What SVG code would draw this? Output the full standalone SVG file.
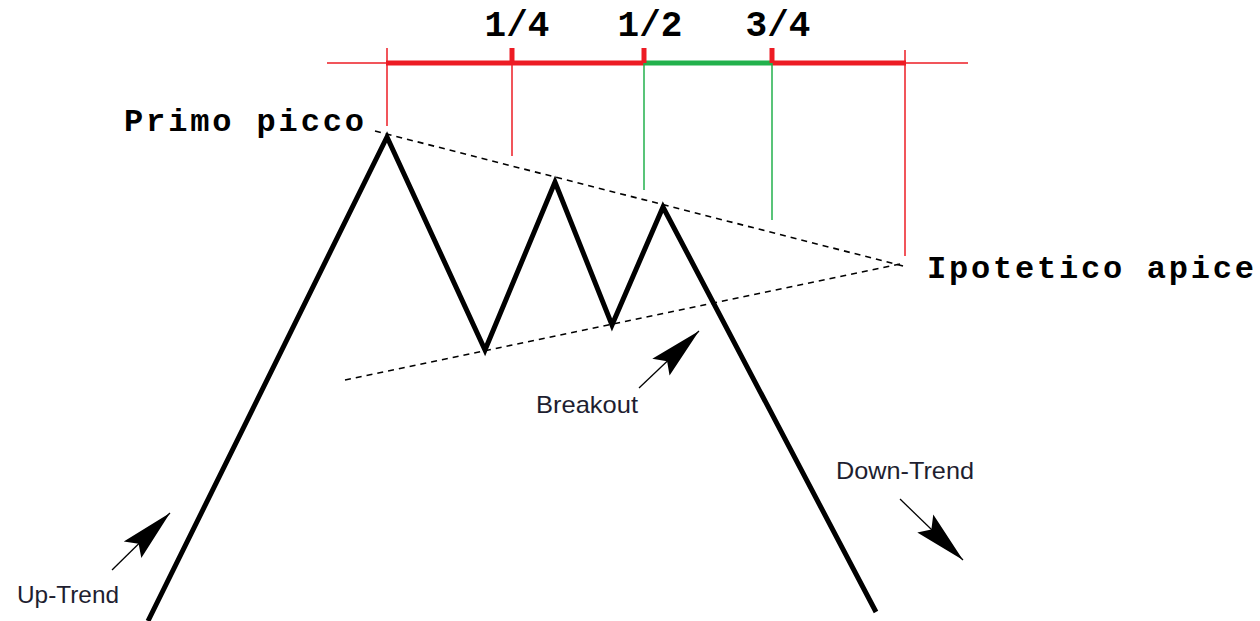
<svg xmlns="http://www.w3.org/2000/svg" width="1260" height="621" viewBox="0 0 1260 621">
<style>
.thinr{stroke:#ed1c24;stroke-width:1.5;fill:none}
.thickr{stroke:#ed1c24;stroke-width:5;fill:none}
.thing{stroke:#22b14c;stroke-width:1.5;fill:none}
.thickg{stroke:#22b14c;stroke-width:5;fill:none}
.price{stroke:#000;stroke-width:5;fill:none;stroke-linejoin:miter;stroke-miterlimit:10}
.dash{stroke:#000;stroke-width:1.6;fill:none;stroke-dasharray:6 5}
.shaft{stroke:#000;stroke-width:1.3;fill:none}
.mono{font-family:"Liberation Mono","Courier New",monospace;font-weight:bold;font-size:36px;fill:#000}
.mono2{font-family:"Liberation Mono","Courier New",monospace;font-weight:bold;font-size:32px;fill:#000}
.lbl{font-family:"Liberation Sans",Arial,sans-serif;font-size:24px;fill:#1e1e30}
</style>
<defs>
<marker id="ah" markerUnits="userSpaceOnUse" viewBox="-56 -14 58 28" markerWidth="58" markerHeight="28" refX="0" refY="0" orient="auto" overflow="visible">
<path d="M0,0 L-53,-12 L-44,0 L-52,12 Z" fill="#000"/>
</marker>
</defs>
<rect width="1260" height="621" fill="#fff"/>
<g id="scale">
<line class="thinr" x1="327" y1="63" x2="968" y2="63"/>
<line class="thickr" x1="386" y1="63" x2="644" y2="63"/>
<line class="thickr" x1="772" y1="63" x2="906" y2="63"/>
<line class="thickg" x1="644" y1="63" x2="772" y2="63"/>
<line class="thinr" x1="387" y1="48" x2="387" y2="126"/>
<line class="thickr" x1="512" y1="48" x2="512" y2="63"/>
<line class="thinr" x1="512" y1="63" x2="512" y2="156"/>
<line class="thickr" x1="644" y1="48" x2="644" y2="63"/>
<line class="thing" x1="644" y1="63" x2="644" y2="190"/>
<line class="thickr" x1="772" y1="48" x2="772" y2="63"/>
<line class="thing" x1="772" y1="63" x2="772" y2="220"/>
<line class="thinr" x1="905" y1="50" x2="905" y2="256"/>
<text class="mono" x="517" y="36" text-anchor="middle">1/4</text>
<text class="mono" x="650" y="36" text-anchor="middle">1/2</text>
<text class="mono" x="778" y="36" text-anchor="middle">3/4</text>
</g>
<g id="trendlines">
<line class="dash" x1="375" y1="131" x2="907" y2="267"/>
<line class="dash" x1="345" y1="380" x2="900" y2="264"/>
</g>
<g id="price">
<polyline class="price" points="148,621 387,137 485,350 555,182 612,325 663,207 876,612"/>
</g>
<g id="connectors">
<line class="shaft" x1="112" y1="570" x2="170" y2="513" marker-end="url(#ah)"/>
<line class="shaft" x1="639" y1="388" x2="699" y2="331" marker-end="url(#ah)"/>
<line class="shaft" x1="900" y1="499" x2="963" y2="560" marker-end="url(#ah)"/>
</g>
<g id="primo-picco"><text class="mono2" x="124" y="131" textLength="240" lengthAdjust="spacing">Primo picco</text></g>
<g id="ipotetico-apice"><text class="mono2" x="927" y="278" textLength="327" lengthAdjust="spacing">Ipotetico apice</text></g>
<g id="up-trend"><text class="lbl" x="17" y="603" textLength="102" lengthAdjust="spacingAndGlyphs">Up-Trend</text></g>
<g id="breakout"><text class="lbl" x="536" y="413" textLength="102" lengthAdjust="spacingAndGlyphs">Breakout</text></g>
<g id="down-trend"><text class="lbl" x="836" y="479" textLength="138" lengthAdjust="spacingAndGlyphs">Down-Trend</text></g>
</svg>
